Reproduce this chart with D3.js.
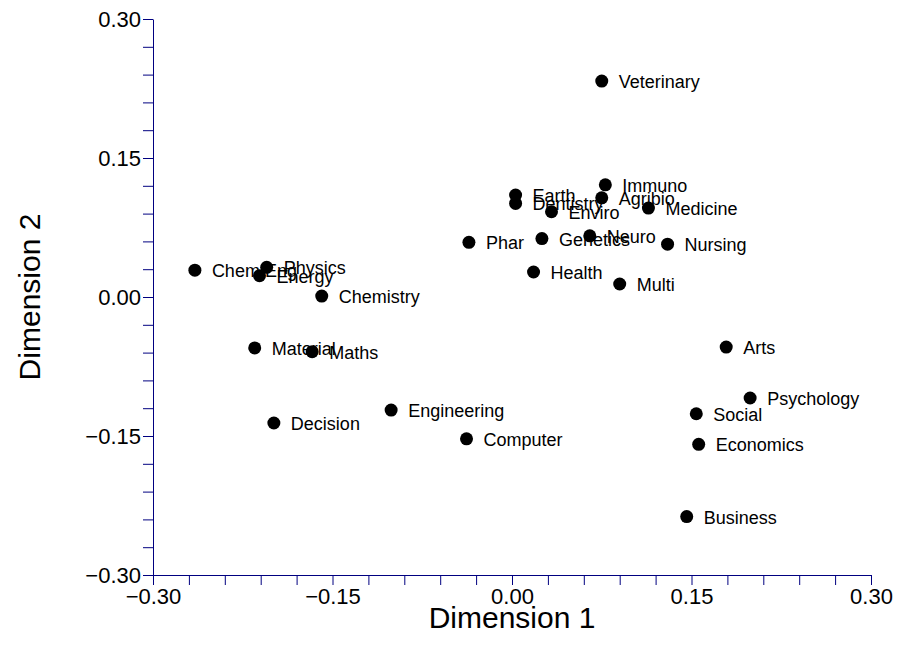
<!DOCTYPE html>
<html>
<head>
<meta charset="utf-8">
<script src="https://cdn.jsdelivr.net/npm/d3@7"></script>
<style>
  html, body { margin: 0; padding: 0; background: #fff; }
  svg { display: block; font-family: "Liberation Sans", Arial, sans-serif; }
</style>
</head>
<body>
<svg id="chart" width="897" height="657"></svg>
<script>
const labels = ["Veterinary","Immuno","Earth","Dentistry","Agribio","Enviro","Medicine","Phar","Genetics","Neuro","Nursing","Health","Multi","Chem Eng","Physics","Energy","Chemistry","Material","Maths","Decision","Engineering","Computer","Arts","Psychology","Social","Economics","Business"];
const dim1 = [0.075, 0.078, 0.003, 0.003, 0.075, 0.033, 0.114, -0.036, 0.025, 0.065, 0.130, 0.018, 0.090, -0.265, -0.205, -0.211, -0.159, -0.215, -0.167, -0.199, -0.101, -0.038, 0.179, 0.199, 0.154, 0.156, 0.146];
const dim2 = [0.233, 0.121, 0.110, 0.101, 0.107, 0.092, 0.096, 0.059, 0.063, 0.066, 0.057, 0.027, 0.014, 0.029, 0.032, 0.023, 0.001, -0.055, -0.059, -0.136, -0.122, -0.153, -0.054, -0.109, -0.126, -0.159, -0.237];
const majorTicks = [-0.30, -0.15, 0.00, 0.15, 0.30];
const xTitle = "Dimension 1";
const yTitle = "Dimension 2";

(function () {
const FONT = "'Liberation Sans', Arial, sans-serif";
const svg = d3.select("#chart");
const mLeft = 153, mRight = 871, mTop = 19, mBottom = 575;
const axisColor = "#000080";

const x = d3.scaleLinear().domain([-0.3, 0.3]).range([mLeft, mRight]);
const y = d3.scaleLinear().domain([-0.3, 0.3]).range([mBottom, mTop]);

const minor = d3.range(0, 21).map(i => -0.3 + i * 0.03);
const fmt = d3.format(".2f");
const isMajor = d => majorTicks.some(m => Math.abs(m - d) < 1e-9);

// X axis
const xAxis = d3.axisBottom(x).tickValues(minor).tickSize(10).tickSizeOuter(0)
  .tickFormat(d => isMajor(d) ? fmt(d) : "");
const gx = svg.append("g").attr("transform", `translate(0,${mBottom})`).call(xAxis);
gx.select(".domain").attr("stroke", axisColor);
gx.selectAll(".tick line").attr("stroke", axisColor);
gx.selectAll(".tick text").attr("fill", "#000").attr("font-size", 22)
  .attr("font-family", FONT).attr("y", 13);

// Y axis
const yAxis = d3.axisLeft(y).tickValues(minor).tickSize(10).tickSizeOuter(0)
  .tickFormat(d => isMajor(d) ? fmt(d) : "");
const gy = svg.append("g").attr("transform", `translate(${mLeft},0)`).call(yAxis);
gy.select(".domain").attr("stroke", axisColor);
gy.selectAll(".tick line").attr("stroke", axisColor);
gy.selectAll(".tick text").attr("fill", "#000").attr("font-size", 22)
  .attr("font-family", FONT).attr("x", -12);

// Titles
svg.append("text").attr("x", (mLeft + mRight) / 2).attr("y", 628)
  .attr("text-anchor", "middle").attr("font-size", 30).attr("font-family", FONT)
  .attr("fill", "#000").text(xTitle);
svg.append("text").attr("transform", `translate(40,${(mTop + mBottom) / 2}) rotate(-90)`)
  .attr("text-anchor", "middle").attr("font-size", 30).attr("font-family", FONT)
  .attr("fill", "#000").text(yTitle);

// Points
const data = labels.map((l, i) => ({ label: l, d1: dim1[i], d2: dim2[i] }));
const g = svg.append("g");
g.selectAll("circle").data(data).enter().append("circle")
  .attr("cx", d => x(d.d1)).attr("cy", d => y(d.d2)).attr("r", 6.5).attr("fill", "#000");
g.selectAll("text").data(data).enter().append("text")
  .attr("x", d => x(d.d1) + 17).attr("y", d => y(d.d2) + 7)
  .attr("font-size", 18).attr("font-family", FONT).attr("fill", "#000").text(d => d.label);
})();
</script>
</body>
</html>
